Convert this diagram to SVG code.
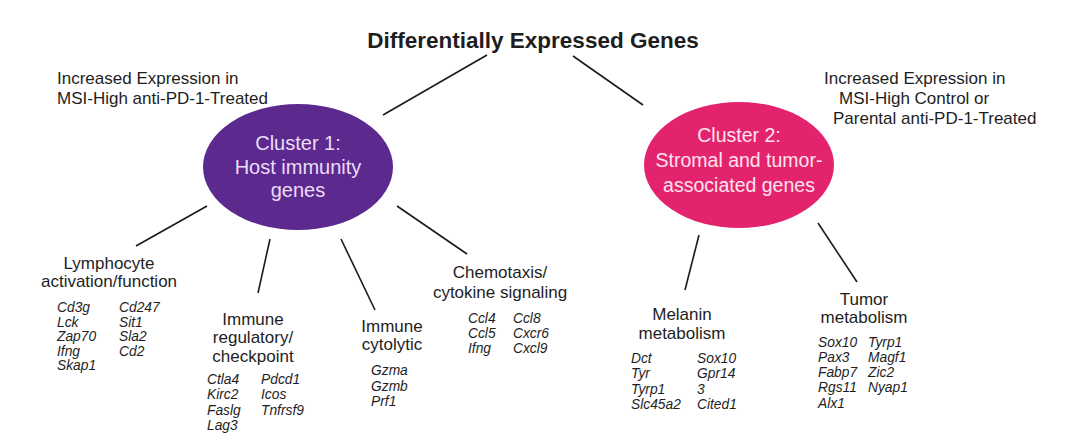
<svg xmlns="http://www.w3.org/2000/svg" width="1071" height="441" viewBox="0 0 1071 441">
<style>
text{font-family:"Liberation Sans",Arial,sans-serif;fill:#1e1e1e}
.title{font-size:22.5px;font-weight:bold;text-anchor:middle}
.note{font-size:17px}
.cat{font-size:17px;text-anchor:middle}
.gene{font-size:13.8px;font-style:italic}
.c1t{font-size:20px;text-anchor:middle;fill:#ecdcf8}
.c2t{font-size:19.5px;text-anchor:middle;fill:#fde3ec}
.conn line{stroke:#1a1a1a;stroke-width:1.6}
</style>
<rect width="1071" height="441" fill="#ffffff"/>
<g id="title"><text class="title" x="533" y="48">Differentially Expressed Genes</text></g>
<g id="note-left">
<text class="note" x="57" y="84">Increased Expression in</text>
<text class="note" x="57" y="104">MSI-High anti-PD-1-Treated</text>
</g>
<g id="note-right">
<text class="note" x="824" y="84">Increased Expression in</text>
<text class="note" x="839" y="104">MSI-High Control or</text>
<text class="note" x="833" y="124">Parental anti-PD-1-Treated</text>
</g>
<g class="conn" id="connectors">
<line x1="383" y1="115" x2="487" y2="55"/>
<line x1="573" y1="56" x2="643" y2="105"/>
<line x1="207" y1="206" x2="136" y2="246"/>
<line x1="270" y1="239" x2="258" y2="293"/>
<line x1="341" y1="239" x2="375" y2="310"/>
<line x1="397" y1="206" x2="467" y2="254"/>
<line x1="699" y1="235" x2="685" y2="290"/>
<line x1="818" y1="223" x2="857" y2="282"/>
</g>
<g id="cluster1">
<ellipse cx="298" cy="167" rx="95" ry="63" fill="#5c2a8f"/>
<text class="c1t" x="298" y="150">Cluster 1:</text>
<text class="c1t" x="298" y="174">Host immunity</text>
<text class="c1t" x="298" y="197">genes</text>
</g>
<g id="cluster2">
<ellipse cx="739" cy="165" rx="95" ry="63" fill="#e4236f"/>
<text class="c2t" x="739" y="142">Cluster 2:</text>
<text class="c2t" x="739" y="167">Stromal and tumor-</text>
<text class="c2t" x="739" y="192">associated genes</text>
</g>
<g id="lymphocyte">
<text class="cat" x="109" y="269">Lymphocyte</text>
<text class="cat" x="109" y="287">activation/function</text>
<text class="gene" x="57" y="312">Cd3g</text>
<text class="gene" x="57" y="326.5">Lck</text>
<text class="gene" x="57" y="341">Zap70</text>
<text class="gene" x="57" y="355.5">Ifng</text>
<text class="gene" x="57" y="370">Skap1</text>
<text class="gene" x="119" y="312">Cd247</text>
<text class="gene" x="119" y="326.5">Sit1</text>
<text class="gene" x="119" y="341">Sla2</text>
<text class="gene" x="119" y="355.5">Cd2</text>
</g>
<g id="regulatory">
<text class="cat" x="253" y="325">Immune</text>
<text class="cat" x="253" y="343">regulatory/</text>
<text class="cat" x="253" y="362">checkpoint</text>
<text class="gene" x="207" y="384">Ctla4</text>
<text class="gene" x="207" y="399">Kirc2</text>
<text class="gene" x="207" y="414.5">Faslg</text>
<text class="gene" x="207" y="430">Lag3</text>
<text class="gene" x="261" y="384">Pdcd1</text>
<text class="gene" x="261" y="399">Icos</text>
<text class="gene" x="261" y="414.5">Tnfrsf9</text>
</g>
<g id="cytolytic">
<text class="cat" x="392" y="332">Immune</text>
<text class="cat" x="392" y="350">cytolytic</text>
<text class="gene" x="371" y="375">Gzma</text>
<text class="gene" x="371" y="390.5">Gzmb</text>
<text class="gene" x="371" y="406">Prf1</text>
</g>
<g id="chemotaxis">
<text class="cat" x="500" y="278">Chemotaxis/</text>
<text class="cat" x="500" y="298">cytokine signaling</text>
<text class="gene" x="468" y="323">Ccl4</text>
<text class="gene" x="468" y="338">Ccl5</text>
<text class="gene" x="468" y="353">Ifng</text>
<text class="gene" x="513" y="323">Ccl8</text>
<text class="gene" x="513" y="338">Cxcr6</text>
<text class="gene" x="513" y="353">Cxcl9</text>
</g>
<g id="melanin">
<text class="cat" x="682" y="320">Melanin</text>
<text class="cat" x="682" y="339">metabolism</text>
<text class="gene" x="631" y="363">Dct</text>
<text class="gene" x="631" y="378">Tyr</text>
<text class="gene" x="631" y="393.5">Tyrp1</text>
<text class="gene" x="631" y="409">Slc45a2</text>
<text class="gene" x="697" y="363">Sox10</text>
<text class="gene" x="697" y="378">Gpr14</text>
<text class="gene" x="697" y="393.5">3</text>
<text class="gene" x="697" y="409">Cited1</text>
</g>
<g id="tumor">
<text class="cat" x="864" y="305">Tumor</text>
<text class="cat" x="864" y="323">metabolism</text>
<text class="gene" x="818" y="347">Sox10</text>
<text class="gene" x="818" y="362">Pax3</text>
<text class="gene" x="818" y="377">Fabp7</text>
<text class="gene" x="818" y="392">Rgs11</text>
<text class="gene" x="818" y="407.5">Alx1</text>
<text class="gene" x="868" y="347">Tyrp1</text>
<text class="gene" x="868" y="362">Magf1</text>
<text class="gene" x="868" y="377">Zic2</text>
<text class="gene" x="868" y="392">Nyap1</text>
</g>
</svg>
